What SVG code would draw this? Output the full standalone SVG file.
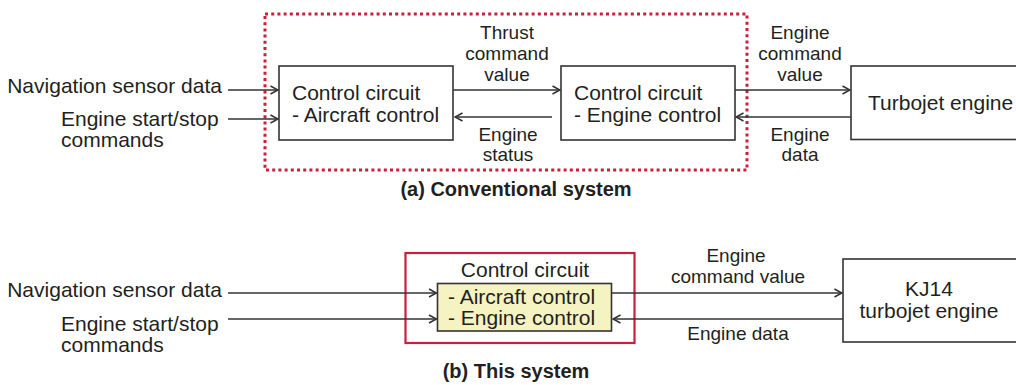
<svg xmlns="http://www.w3.org/2000/svg" width="1016" height="385" viewBox="0 0 1016 385">
<style>
  text { font-family: "Liberation Sans", Arial, sans-serif; fill: #231f20; }
  .m { font-size: 21px; }
  .l { font-size: 19px; }
  .c { text-anchor: middle; }
  .e { text-anchor: end; }
  .cap { font-size: 20px; font-weight: bold; text-anchor: middle; }
  .box { fill: #ffffff; stroke: #333333; stroke-width: 1.6; }
  .ybox { fill: #f6f3c3; stroke: #333333; stroke-width: 1.6; }
  .conn line { stroke: #333333; stroke-width: 1.6; marker-end: url(#ah); }
</style>
<defs>
  <marker id="ah" viewBox="0 0 10 10" refX="9" refY="5" markerWidth="10" markerHeight="10" markerUnits="userSpaceOnUse" orient="auto">
    <path d="M1.5,1 L9,5 L1.5,9" fill="none" stroke="#333333" stroke-width="1.6"/>
  </marker>
</defs>
<rect width="1016" height="385" fill="#ffffff"/>

<!-- (a) Conventional system -->
<g id="conventional-boundary">
  <rect x="265" y="14" width="482" height="156" fill="none" stroke="#c8203c" stroke-width="3" stroke-dasharray="3 3.2"/>
</g>
<g id="a-nav-label">
  <text class="m e" x="222" y="93">Navigation sensor data</text>
</g>
<g id="a-start-label">
  <text class="m" x="61" y="126">Engine start/stop</text>
  <text class="m" x="61" y="146.5">commands</text>
</g>
<g id="a-aircraft-control">
  <rect class="box" x="279" y="66" width="174" height="74"/>
  <text class="m" x="292" y="99.5">Control circuit</text>
  <text class="m" x="292" y="121.5">- Aircraft control</text>
</g>
<g id="a-engine-control">
  <rect class="box" x="561" y="66" width="174" height="74"/>
  <text class="m" x="574" y="99.5">Control circuit</text>
  <text class="m" x="574" y="121.5">- Engine control</text>
</g>
<g id="a-turbojet">
  <rect class="box" x="851" y="66" width="180" height="73.5"/>
  <text class="m" x="868" y="110">Turbojet engine</text>
</g>
<g id="a-labels">
  <text class="l c" x="507" y="39.3">Thrust</text>
  <text class="l c" x="507" y="59.5">command</text>
  <text class="l c" x="507" y="80.5">value</text>
  <text class="l c" x="508" y="140.7">Engine</text>
  <text class="l c" x="508" y="160.5">status</text>
  <text class="l c" x="800" y="39.3">Engine</text>
  <text class="l c" x="800" y="59.5">command</text>
  <text class="l c" x="800" y="80.5">value</text>
  <text class="l c" x="800" y="140.7">Engine</text>
  <text class="l c" x="800" y="160.5">data</text>
  <text class="cap" x="516" y="196">(a) Conventional system</text>
</g>

<!-- (b) This system -->
<g id="b-boundary">
  <rect x="405.5" y="253" width="229" height="90" fill="none" stroke="#c8203c" stroke-width="2.2"/>
  <text class="m c" x="525" y="277">Control circuit</text>
</g>
<g id="b-nav-label">
  <text class="m e" x="222" y="297">Navigation sensor data</text>
</g>
<g id="b-start-label">
  <text class="m" x="61" y="331">Engine start/stop</text>
  <text class="m" x="61" y="351.5">commands</text>
</g>
<g id="b-control">
  <rect class="ybox" x="437.5" y="283.5" width="174" height="47.5"/>
  <text class="m" x="448" y="303.5">- Aircraft control</text>
  <text class="m" x="448" y="325">- Engine control</text>
</g>
<g id="b-kj14">
  <rect class="box" x="843" y="259" width="190" height="83"/>
  <text class="m c" x="929" y="296">KJ14</text>
  <text class="m c" x="929" y="317.5">turbojet engine</text>
</g>
<g id="b-labels">
  <text class="l c" x="736" y="261.7">Engine</text>
  <text class="l c" x="738" y="283.3">command value</text>
  <text class="l c" x="738" y="340">Engine data</text>
  <text class="cap" x="516" y="378">(b) This system</text>
</g>

<g id="connectors" class="conn">
  <line x1="228" y1="90" x2="278" y2="90"/>
  <line x1="228" y1="119" x2="278" y2="119"/>
  <line x1="453" y1="90" x2="560" y2="90"/>
  <line x1="552" y1="117" x2="455" y2="117"/>
  <line x1="735" y1="90" x2="850" y2="90"/>
  <line x1="851" y1="117" x2="736" y2="117"/>
  <line x1="228" y1="293" x2="436.5" y2="293"/>
  <line x1="228" y1="319" x2="436.5" y2="319"/>
  <line x1="611.5" y1="293" x2="842" y2="293"/>
  <line x1="843" y1="319" x2="613" y2="319"/>
</g>
</svg>
